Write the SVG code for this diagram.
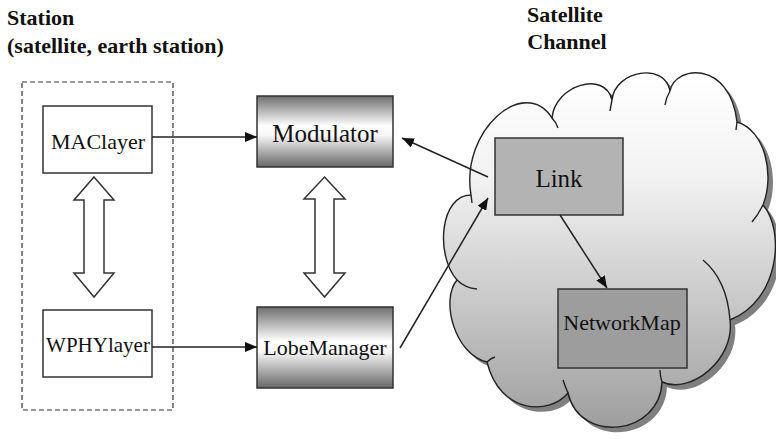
<svg xmlns="http://www.w3.org/2000/svg" width="776" height="439" viewBox="0 0 776 439">
<style>
.title{font-family:'Liberation Serif',Tinos,'Times New Roman','DejaVu Serif',serif;font-weight:bold;font-size:22px;fill:#111}
.lbl{font-family:'Liberation Serif',Tinos,'Times New Roman','DejaVu Serif',serif;font-size:22px;fill:#111;text-anchor:middle}
.box{fill:#fff;stroke:#333;stroke-width:1.5}
.grad{fill:url(#metal);stroke:#333;stroke-width:1.5}
.conn{stroke:#222;stroke-width:1.5;fill:none;marker-end:url(#ah)}
.dbl{fill:#fff;stroke:#333;stroke-width:1.5;stroke-linejoin:miter}
.curl{fill:none;stroke:#222;stroke-width:1.4}
</style>
<defs>
<linearGradient id="metal" x1="0" y1="0" x2="0" y2="1">
<stop offset="0" stop-color="#6e6e6e"/>
<stop offset="0.42" stop-color="#ffffff"/>
<stop offset="0.55" stop-color="#f8f8f8"/>
<stop offset="1" stop-color="#676767"/>
</linearGradient>
<linearGradient id="cloudg" x1="0" y1="0" x2="0" y2="1">
<stop offset="0" stop-color="#ffffff"/>
<stop offset="0.3" stop-color="#f2f2f2"/>
<stop offset="1" stop-color="#9e9e9e"/>
</linearGradient>
<marker id="ah" viewBox="0 0 12 10" refX="12" refY="5" markerWidth="12" markerHeight="10" markerUnits="userSpaceOnUse" orient="auto">
<path d="M0,0 L12,5 L0,10 z" fill="#111"/>
</marker>
<path id="cloudpath" d="M471,195 C460,130 525,75 552,118 C555,85 605,70 612,100 C615,70 665,62 670,91 C675,65 730,60 737,122 C765,130 775,175 763,205 C785,230 780,300 730,320 C735,360 690,395 662,382 C660,435 580,445 568,393 C550,415 500,415 487,362 C455,355 440,300 457,280 C435,255 440,195 471,195 Z"/>
</defs>

<text class="title" x="7" y="25" font-family="Liberation Serif, serif">Station</text>
<text class="title" x="7" y="53" font-family="Liberation Serif, serif">(satellite, earth station)</text>
<text class="title" x="565" y="22" text-anchor="middle">Satellite</text>
<text class="title" x="567" y="49" text-anchor="middle">Channel</text>

<g id="cloud">
<use href="#cloudpath" transform="translate(5,5)" fill="#808080"/>
<use href="#cloudpath" fill="url(#cloudg)" stroke="#222" stroke-width="1.4"/>
<path class="curl" d="M471,195 L472,203"/>
<path class="curl" d="M552,118 Q556,122 558,128"/>
<path class="curl" d="M612,100 Q611,105 610,111"/>
<path class="curl" d="M670,91 Q666,98 665,105"/>
<path class="curl" d="M737,122 L736,130"/>
<path class="curl" d="M763,205 Q758,215 752,222"/>
<path class="curl" d="M730,320 Q727,280 703,260"/>
<path class="curl" d="M662,382 Q660,376 660,370"/>
<path class="curl" d="M568,393 Q565,386 563,380"/>
<path class="curl" d="M487,362 Q491,358 495,357"/>
<path class="curl" d="M457,280 Q465,288 477,289"/>
</g>

<g id="station">
<rect x="22" y="82" width="151" height="328" fill="none" stroke="#333" stroke-width="1.2" stroke-dasharray="5,3"/>
</g>

<g id="maclayer">
<rect class="box" x="43" y="106" width="109" height="67"/>
<text class="lbl" x="98" y="149">MAClayer</text>
</g>
<g id="wphylayer">
<rect class="box" x="43" y="310" width="109" height="67"/>
<text class="lbl" x="98" y="352" style="font-size:21px">WPHYlayer</text>
</g>
<g id="modulator">
<rect class="grad" x="257" y="96" width="136" height="71"/>
<text class="lbl" x="325" y="142" style="font-size:25px">Modulator</text>
</g>
<g id="lobemanager">
<rect class="grad" x="257" y="307" width="136" height="81"/>
<text class="lbl" x="325" y="355">LobeManager</text>
</g>
<g id="link">
<rect x="495" y="138" width="128" height="77" fill="#b3b3b3" stroke="#333" stroke-width="1.5"/>
<text class="lbl" x="559" y="187" style="font-size:25px">Link</text>
</g>
<g id="networkmap">
<rect x="558" y="289" width="129" height="79" fill="#9d9d9d" stroke="#333" stroke-width="1.5"/>
<text class="lbl" x="622" y="330">NetworkMap</text>
</g>

<g id="connectors">
<polygon class="dbl" points="94,177 114,200 104,200 104,273 114,273 94,297 74,273 84,273 84,200 74,200"/>
<polygon class="dbl" points="324.5,177 345,199 334,199 334,273 345,273 324.5,297 304,273 315,273 315,199 304,199"/>
<line class="conn" x1="152" y1="137" x2="257" y2="137"/>
<line class="conn" x1="152" y1="347" x2="257" y2="347"/>
<line class="conn" x1="488" y1="177" x2="402" y2="138"/>
<line class="conn" x1="400" y1="348" x2="488" y2="198"/>
<line class="conn" x1="560" y1="215" x2="607" y2="288"/>
</g>
</svg>
